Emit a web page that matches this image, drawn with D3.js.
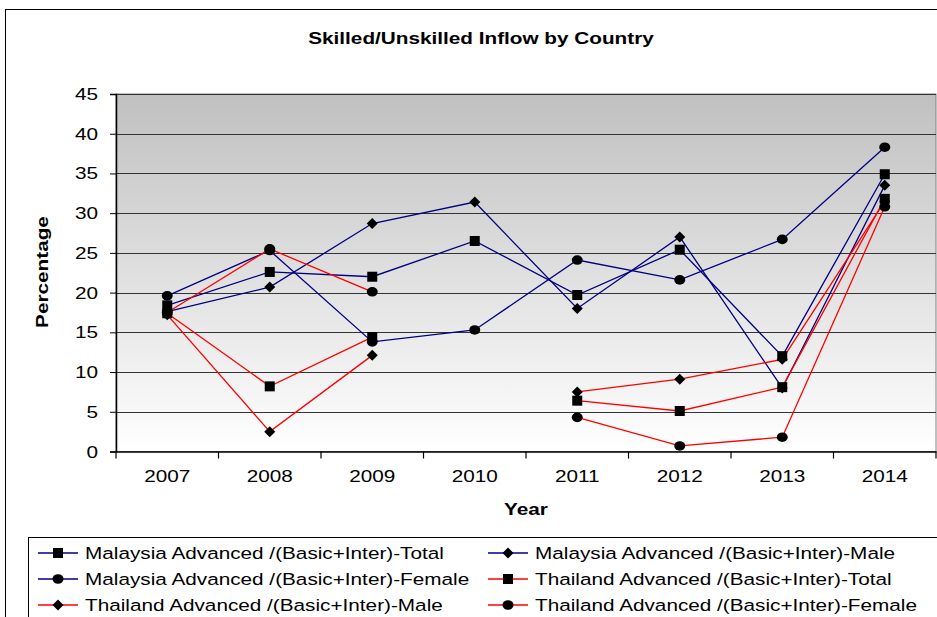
<!DOCTYPE html>
<html>
<head>
<meta charset="utf-8">
<script src="https://cdn.jsdelivr.net/npm/d3@7"></script>
<style>
  body { margin: 0; background: #fff; }
  text { font-family: "Liberation Sans", Arial, sans-serif; fill: #000; }
</style>
</head>
<body>
<svg id="chart" width="937" height="617"></svg>
<script>
var years = ["2007", "2008", "2009", "2010", "2011", "2012", "2013", "2014"];
var yTicks = [0, 5, 10, 15, 20, 25, 30, 35, 40, 45];

var malaysiaTotal  = [18.4, 22.6, 22.0, 26.5, 19.7, 25.4, 12.0, 34.9];
var malaysiaMale   = [17.6, 20.7, 28.7, 31.4, 18.0, 27.0, 8.0, 33.5];
var malaysiaFemale = [19.6, 25.3, 13.8, 15.3, 24.1, 21.6, 26.7, 38.3];
var thailandTotal  = [17.4, 8.2, 14.4, null, 6.4, 5.1, 8.1, 31.8];
var thailandMale   = [17.2, 2.5, 12.1, null, 7.5, 9.1, 11.6, 31.5];
var thailandFemale = [17.5, 25.5, 20.1, null, 4.3, 0.7, 1.8, 30.8];

var series = [
  {name: "Malaysia Advanced /(Basic+Inter)-Total", values: malaysiaTotal, color: "#000080", symbol: "square"},
  {name: "Malaysia Advanced /(Basic+Inter)-Male", values: malaysiaMale, color: "#000080", symbol: "diamond"},
  {name: "Malaysia Advanced /(Basic+Inter)-Female", values: malaysiaFemale, color: "#000080", symbol: "circle"},
  {name: "Thailand Advanced /(Basic+Inter)-Total", values: thailandTotal, color: "#ff0000", symbol: "square"},
  {name: "Thailand Advanced /(Basic+Inter)-Male", values: thailandMale, color: "#ff0000", symbol: "diamond"},
  {name: "Thailand Advanced /(Basic+Inter)-Female", values: thailandFemale, color: "#ff0000", symbol: "circle"}
];

var svg = d3.select("#chart");
var plotL = 116, plotR = 936, plotT = 94, plotB = 451.5;
var sx = 1.22; // the original text is stretched sideways

// text helper with horizontal stretch
function stext(g, tx, ty, str, size, anchor, bold) {
  return g.append("text")
    .attr("transform", "translate(" + tx + "," + ty + ") scale(" + sx + ",1)")
    .attr("text-anchor", anchor || "start")
    .style("font-size", size + "px")
    .style("font-weight", bold ? "bold" : "normal")
    .text(str);
}

// outer frame
svg.append("rect")
  .attr("x", 5.5).attr("y", 9.5).attr("width", 940).attr("height", 620)
  .attr("fill", "none").attr("stroke", "#000").attr("stroke-width", 1);

var defs = svg.append("defs");
var grad = defs.append("linearGradient")
  .attr("id", "bg").attr("x1", "0").attr("y1", "0").attr("x2", "0").attr("y2", "1");
grad.append("stop").attr("offset", "0%").attr("stop-color", "#c0c0c0");
grad.append("stop").attr("offset", "100%").attr("stop-color", "#ffffff");

svg.append("rect")
  .attr("x", plotL).attr("y", plotT).attr("width", plotR - plotL).attr("height", plotB - plotT)
  .attr("fill", "url(#bg)").attr("stroke", "#808080");

var x = d3.scaleBand().domain(years).range([plotL, plotR]);
var y = d3.scaleLinear().domain([0, 45]).range([plotB, plotT]);

// gridlines
svg.append("g").selectAll("line")
  .data(yTicks.filter(function(d) { return d > 0; }))
  .enter().append("line")
  .attr("x1", plotL).attr("x2", plotR)
  .attr("y1", function(d) { return Math.round(y(d)) + 0.5; })
  .attr("y2", function(d) { return Math.round(y(d)) + 0.5; })
  .attr("stroke", "#333").attr("stroke-width", 1.2);

// y axis
var yAxis = svg.append("g")
  .attr("transform", "translate(" + plotL + ",0)")
  .call(d3.axisLeft(y).tickValues(yTicks).tickSize(6).tickFormat(""));
yAxis.select(".domain").attr("stroke", "#000").attr("stroke-width", 1.5);
var yLab = svg.append("g");
yTicks.forEach(function(t) {
  stext(yLab, 98, y(t) + 6, String(t), 17, "end", false);
});

// x axis
var xAxis = svg.append("g")
  .attr("transform", "translate(0," + plotB + ")")
  .call(d3.axisBottom(x).tickSize(0).tickFormat(""));
xAxis.select(".domain").attr("stroke", "#000").attr("stroke-width", 1.5);
xAxis.selectAll(".sep")
  .data(years.concat(["end"]))
  .enter().append("line")
  .attr("x1", function(d, i) { return plotL + i * x.step(); })
  .attr("x2", function(d, i) { return plotL + i * x.step(); })
  .attr("y1", 0).attr("y2", 7)
  .attr("stroke", "#000").attr("stroke-width", 1.2);
var xLab = svg.append("g");
years.forEach(function(yr) {
  stext(xLab, x(yr) + x.bandwidth() / 2, 482, yr, 17, "middle", false);
});

// lines
var line = d3.line()
  .defined(function(d) { return d != null; })
  .x(function(d, i) { return x(years[i]) + x.bandwidth() / 2; })
  .y(function(d) { return y(d); });

function drawMarker(g, symbol, cx, cy) {
  if (symbol === "square") {
    g.append("rect").attr("x", cx - 5).attr("y", cy - 5).attr("width", 10).attr("height", 10).attr("fill", "#000");
  } else if (symbol === "diamond") {
    g.append("path").attr("d", "M" + cx + "," + (cy - 5.5) + "L" + (cx + 5.5) + "," + cy + "L" + cx + "," + (cy + 5.5) + "L" + (cx - 5.5) + "," + cy + "Z").attr("fill", "#000");
  } else {
    g.append("ellipse").attr("cx", cx).attr("cy", cy).attr("rx", 5.5).attr("ry", 4.8).attr("fill", "#000");
  }
}

series.forEach(function(s) {
  svg.append("path")
    .datum(s.values)
    .attr("d", line)
    .attr("fill", "none")
    .attr("stroke", s.color)
    .attr("stroke-width", 1.3);
});
series.forEach(function(s) {
  var g = svg.append("g");
  s.values.forEach(function(v, i) {
    if (v == null) return;
    drawMarker(g, s.symbol, x(years[i]) + x.bandwidth() / 2, y(v));
  });
});

// titles
stext(svg, 481, 44, "Skilled/Unskilled Inflow by Country", 17, "middle", true);
svg.append("text")
  .attr("transform", "translate(48,272) rotate(-90) scale(" + sx + ",1)")
  .attr("text-anchor", "middle")
  .style("font-size", "17px").style("font-weight", "bold")
  .text("Percentage");
stext(svg, 526, 515, "Year", 17, "middle", true);

// legend
svg.append("rect")
  .attr("x", 28.5).attr("y", 537.5).attr("width", 920).attr("height", 100)
  .attr("fill", "#fff").attr("stroke", "#000");

var lg = svg.append("g");
series.forEach(function(s, i) {
  var col = i % 2, row = Math.floor(i / 2);
  var lx = 38 + col * 450, ly = 553 + row * 26;
  lg.append("line")
    .attr("x1", lx).attr("x2", lx + 40).attr("y1", ly).attr("y2", ly)
    .attr("stroke", s.color).attr("stroke-width", 1.3);
  drawMarker(lg, s.symbol, lx + 20, ly);
  stext(lg, lx + 47, ly + 6, s.name, 17, "start", false);
});
</script>
</body>
</html>
